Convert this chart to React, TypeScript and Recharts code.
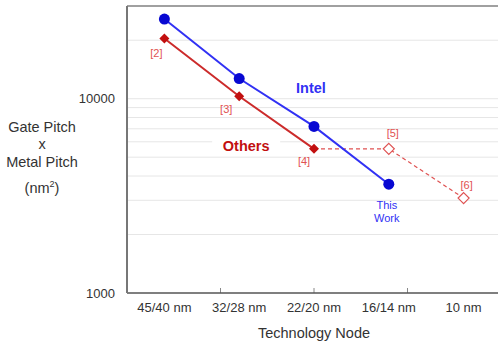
import { LineChart, Line, XAxis, YAxis, ReferenceLine, ReferenceDot } from "recharts";

const FONT = '"Liberation Sans", Arial, sans-serif';
const BLUE_LINE = "#3131f4";
const BLUE_DOT = "#0808d2";
const RED_LINE = "#cc2b2b";
const RED_DOT = "#c20f0f";
const RED_NOTE = "#df5252";
const GRID = "#e6e6e6";

const nodes = ["45/40 nm", "32/28 nm", "22/20 nm", "16/14 nm", "10 nm"];
const intel = [25700, 12700, 7200, 3630, null];
const others = [20400, 10300, 5520, null, null];
const othersProjected = [null, null, 5520, 5520, 3080];
const yTicks = [1000, 10000];
const gridValues = [2000, 3000, 4000, 5000, 6000, 7000, 8000, 9000, 10000, 20000];
const nodeEdges = [1, 2, 3, 4];

const data = nodes.map((node, i) => ({
  node,
  intel: intel[i],
  others: others[i],
  proj: othersProjected[i],
}));

function diamond(cx: number, cy: number, s: number) {
  return `M${cx},${cy - s} L${cx + s},${cy} L${cx},${cy + s} L${cx - s},${cy} Z`;
}

const circleDot = (p: any) =>
  p.cy == null ? <g key={p.index} /> : <circle key={p.index} cx={p.cx} cy={p.cy} r={5.5} fill={BLUE_DOT} />;

const solidDiamond = (p: any) =>
  p.cy == null ? <g key={p.index} /> : <path key={p.index} d={diamond(p.cx, p.cy, 5)} fill={RED_DOT} />;

// 予測分は16/14以降だけ白抜きの菱形
const openDiamond = (p: any) =>
  p.cy == null || p.index < 3 ? (
    <g key={p.index} />
  ) : (
    <path key={p.index} d={diamond(p.cx, p.cy, 5.5)} fill="#fff" stroke={RED_NOTE} strokeWidth={1.2} />
  );

// 区切り目盛り: 下の軸から内側へ短い線
const edgeTick = (p: any) => {
  const bottom = Math.max(p.y1, p.y2);
  return <line x1={p.x1} x2={p.x1} y1={bottom} y2={bottom - 5} stroke="#888" strokeWidth={1} />;
};

function note(lines: string[], dx: number, dy: number, color: string, size: number, bold = false, box = false) {
  return (props: any) => {
    const vb = props.viewBox;
    const cx = vb.x + vb.width / 2 + dx;
    const cy = vb.y + vb.height / 2 + dy;
    return (
      <g>
        {box && <rect x={cx - 34} y={cy - 9} width={68} height={18} fill="#fff" />}
        <text
          x={cx}
          y={cy}
          textAnchor="middle"
          dominantBaseline="central"
          fill={color}
          fontSize={size}
          fontWeight={bold ? "bold" : "normal"}
          fontFamily={FONT}
        >
          {lines.map((t, i) => (
            <tspan key={i} x={cx} dy={i === 0 ? 0 : size * 1.15}>
              {t}
            </tspan>
          ))}
        </text>
      </g>
    );
  };
}

const yTitle = (props: any) => {
  const vb = props.viewBox;
  const x = vb.x + 42;
  const y = vb.y;
  return (
    <text textAnchor="middle" fontSize={14.5} fill="#333" fontFamily={FONT}>
      <tspan x={x} y={y + 126}>Gate Pitch</tspan>
      <tspan x={x} y={y + 143}>x</tspan>
      <tspan x={x} y={y + 161}>Metal Pitch</tspan>
      <tspan x={x} y={y + 187}>
        (nm<tspan fontSize={9} dy={-6}>2</tspan>
        <tspan dy={6}>)</tspan>
      </tspan>
    </text>
  );
};

const xTitle = (props: any) => {
  const vb = props.viewBox;
  return (
    <text
      x={vb.x + vb.width / 2}
      y={vb.y + 40}
      textAnchor="middle"
      dominantBaseline="central"
      fontSize={14.5}
      fill="#333"
      fontFamily={FONT}
    >
      Technology Node
    </text>
  );
};

export default function App() {
  return (
    <div style={{ position: "absolute", left: 0, top: 0, width: 498, height: 343, overflow: "hidden", background: "#fff" }}>
      <LineChart width={502} height={343} data={data} margin={{ top: 6, right: 1, left: 0, bottom: 20 }}>
        {gridValues.map((v) => (
          <ReferenceLine key={v} y={v} stroke={GRID} strokeWidth={1} />
        ))}
        <ReferenceLine y={30000} stroke="#a0a0a0" strokeWidth={2} />
        <XAxis
          dataKey="node"
          scale="band"
          tickLine={false}
          tickMargin={4}
          axisLine={{ stroke: "#555", strokeWidth: 1.5 }}
          tick={{ fontSize: 13, fill: "#333", fontFamily: FONT }}
          height={30}
          label={{ content: xTitle }}
        />
        <XAxis xAxisId="edges" type="number" domain={[0, nodes.length]} allowDataOverflow hide />
        {nodeEdges.map((e) => (
          <ReferenceLine key={e} xAxisId="edges" x={e} shape={edgeTick} />
        ))}
        <YAxis
          scale="log"
          domain={[1000, 30000]}
          ticks={yTicks}
          allowDataOverflow
          width={127}
          tickLine={false}
          tickMargin={6}
          axisLine={{ stroke: "#777", strokeWidth: 2 }}
          tick={{ fontSize: 13, fill: "#333", fontFamily: FONT }}
          label={{ content: yTitle }}
        />
        <Line dataKey="others" stroke={RED_LINE} strokeWidth={2} dot={solidDiamond} activeDot={false} isAnimationActive={false} />
        <Line
          dataKey="proj"
          stroke={RED_NOTE}
          strokeWidth={1.2}
          strokeDasharray="4 3"
          dot={openDiamond}
          activeDot={false}
          isAnimationActive={false}
        />
        <Line dataKey="intel" stroke={BLUE_LINE} strokeWidth={2} dot={circleDot} activeDot={false} isAnimationActive={false} />

        <ReferenceDot x={nodes[0]} y={others[0] as number} r={1} fill="none" stroke="none" label={{ content: note(["[2]"], -8, 14, RED_NOTE, 11) }} />
        <ReferenceDot x={nodes[1]} y={others[1] as number} r={1} fill="none" stroke="none" label={{ content: note(["[3]"], -13, 13, RED_NOTE, 11) }} />
        <ReferenceDot x={nodes[2]} y={others[2] as number} r={1} fill="none" stroke="none" label={{ content: note(["[4]"], -10, 12, RED_NOTE, 11) }} />
        <ReferenceDot x={nodes[3]} y={othersProjected[3] as number} r={1} fill="none" stroke="none" label={{ content: note(["[5]"], 4, -16, RED_NOTE, 11) }} />
        <ReferenceDot x={nodes[4]} y={othersProjected[4] as number} r={1} fill="none" stroke="none" label={{ content: note(["[6]"], 3, -13, RED_NOTE, 11) }} />
        <ReferenceDot x={nodes[3]} y={intel[3] as number} r={1} fill="none" stroke="none" label={{ content: note(["This", "Work"], -2, 21, BLUE_LINE, 11) }} />
        <ReferenceDot x={nodes[2]} y={11300} r={1} fill="none" stroke="none" label={{ content: note(["Intel"], -3, 0, BLUE_LINE, 14.5, true) }} />
        <ReferenceDot x={nodes[1]} y={5730} r={1} fill="none" stroke="none" label={{ content: note(["Others"], 7, 0, RED_DOT, 14.5, true, true) }} />
      </LineChart>
    </div>
  );
}
